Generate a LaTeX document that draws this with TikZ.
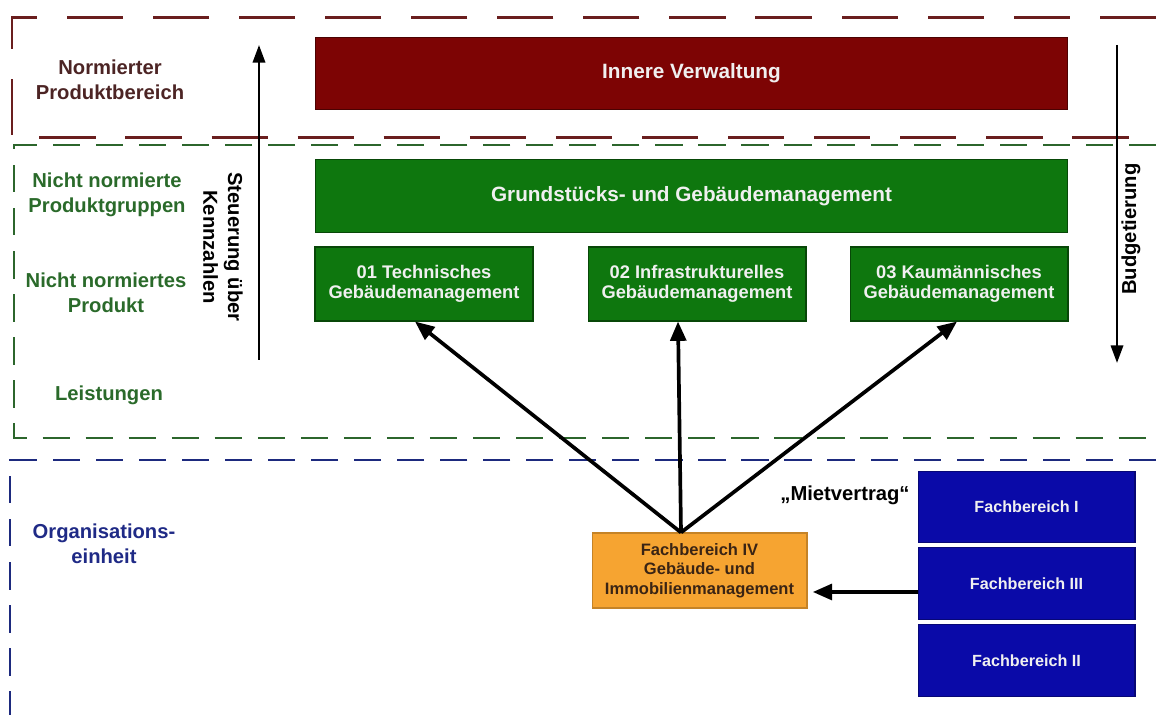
\documentclass[tikz,border=0pt]{standalone}
\usepackage{fontspec}
\setmainfont{Liberation Sans}
\usetikzlibrary{arrows.meta}

\definecolor{verwaltungrot}{HTML}{7D0404}
\definecolor{produktgruen}{HTML}{0E770E}
\definecolor{fachblau}{HTML}{0A0AA8}
\definecolor{immoorange}{HTML}{F6A431}
\definecolor{linierot}{HTML}{6A1E1E}
\definecolor{liniegruen}{HTML}{2C662C}
\definecolor{linieblau}{HTML}{1D2A7E}
\definecolor{textrot}{HTML}{4C2424}
\definecolor{textgruen}{HTML}{2A6A2A}
\definecolor{textblau}{HTML}{1F2A86}
\definecolor{textbraun}{HTML}{3A2414}

\begin{document}
\begin{tikzpicture}[x=0.02cm, y=-0.02cm]
    \tikzstyle{every node}=[align=center, inner sep=0pt, font=\bfseries\fontsize{11.5}{14}\selectfont]
    \tikzstyle{box}=[rectangle, line width=0.6pt, text=white!94!black]
    \tikzstyle{grossbox}=[box, minimum width=15.06cm, minimum height=1.45cm, font=\bfseries\fontsize{11.8}{14}\selectfont]
    \tikzstyle{produktbox}=[box, fill=produktgruen, draw=produktgruen!60!black, minimum width=4.36cm, minimum height=1.48cm, font=\bfseries\fontsize{10.4}{11.4}\selectfont]
    \tikzstyle{fachbox}=[box, fill=fachblau, draw=fachblau!70!black, minimum width=4.34cm, minimum height=1.43cm, font=\bfseries\fontsize{9.2}{10.5}\selectfont]
    \tikzstyle{pfeil}=[black, line width=1.4pt, -{Triangle[length=10pt, width=7pt]}]
    \tikzstyle{fan}=[black, line width=2.1pt, -{Triangle[length=11pt, width=9pt]}]

    \useasboundingbox (0,0) rectangle (1156,715);

    \draw[linierot, line width=1.7pt, dash pattern=on 32pt off 17pt] (1156,18) -- (12,18) -- (12,138) -- (1156,138);
    \draw[liniegruen, line width=1.6pt, dash pattern=on 15.5pt off 9pt] (1156,145) -- (14,145) -- (14,438) -- (1156,438);
    \draw[linieblau, line width=1.6pt, dash pattern=on 15.5pt off 9pt] (1156,460) -- (10,460) -- (10,715);

    \node[text=textrot] (bereich) at (110,80) {Normierter\\Produktbereich};
    \node[text=textgruen] (gruppen) at (107,195) {Nicht normierte\\Produktgruppen};
    \node[text=textgruen] (produkt) at (106,293) {Nicht normiertes\\Produkt};
    \node[text=textgruen] (leistungen) at (109,395) {Leistungen};
    \node[text=textblau] (einheit) at (104,544) {Organisations-\\einheit};

    \node[grossbox, fill=verwaltungrot, draw=verwaltungrot!60!black] (verwaltung) at (691.5,73.5) {Innere Verwaltung};
    \node[grossbox, fill=produktgruen, draw=produktgruen!60!black] (gebaeude) at (691.5,196) {Grundstücks- und Gebäudemanagement};
    \node[produktbox] (tgm) at (424,284) {01 Technisches\\Gebäudemanagement};
    \node[produktbox] (igm) at (697,284) {02 Infrastrukturelles\\Gebäudemanagement};
    \node[produktbox] (kgm) at (959,284) {03 Kaumännisches\\Gebäudemanagement};

    \node[box, fill=immoorange, draw=immoorange!80!black, text=textbraun, minimum width=4.3cm, minimum height=1.5cm, font=\bfseries\fontsize{9.4}{11}\selectfont] (fb4) at (699.5,570.5) {Fachbereich IV\\Gebäude- und\\Immobilienmanagement};
    \node[fachbox] (fb1) at (1026.5,507) {Fachbereich I};
    \node[fachbox] (fb3) at (1026.5,583.5) {Fachbereich III};
    \node[fachbox] (fb2) at (1026.5,660.5) {Fachbereich II};
    \node (miete) at (845,495) {„Mietvertrag“};

    \coordinate (steuerunten) at (259,360);
    \coordinate (steueroben) at (259,45);
    \coordinate (budgetoben) at (1117,45);
    \coordinate (budgetunten) at (1117,363);
    \draw[pfeil] (steuerunten) -- (steueroben);
    \draw[pfeil] (budgetoben) -- (budgetunten);
    \node[rotate=-90] (steuerung) at (223,247) {Steuerung über\\Kennzahlen};
    \node[rotate=90] (budget) at (1131,229) {Budgetierung};

    \coordinate (hub) at ([xshift=-0.37cm]fb4.north);
    \draw[fan] (hub) -- ([xshift=-0.18cm]tgm.south);
    \draw[fan] (hub) -- ([xshift=-0.38cm]igm.south);
    \draw[fan] (hub) -- ([xshift=-0.04cm]kgm.south);
    \draw[fan, shorten >=3pt] ([yshift=-0.17cm]fb3.west) -- ([yshift=-0.17cm]fb3.west -| fb4.east);
\end{tikzpicture}
\end{document}
